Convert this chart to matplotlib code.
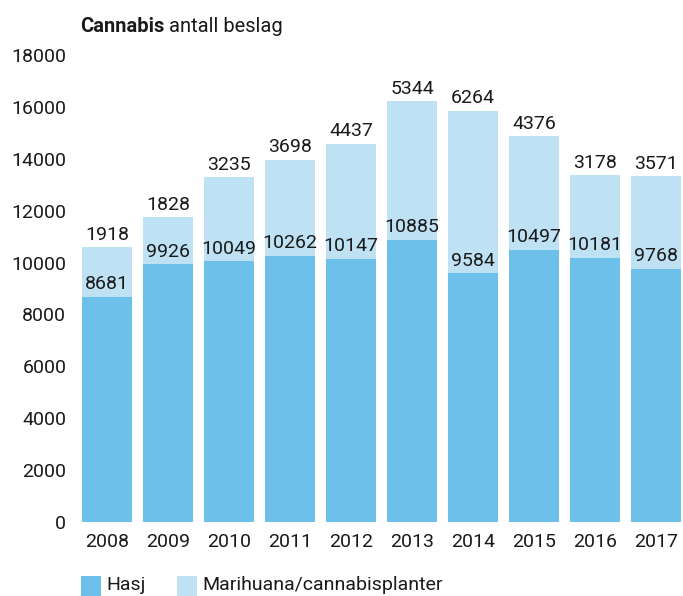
import matplotlib
matplotlib.use("Agg")
import matplotlib.pyplot as plt
from matplotlib.patches import Rectangle

# ------------------------------------------------------------------
# Data
# ------------------------------------------------------------------
years = ["2008", "2009", "2010", "2011", "2012",
         "2013", "2014", "2015", "2016", "2017"]
hasj = [8681, 9926, 10049, 10262, 10147, 10885, 9584, 10497, 10181, 9768]
marihuana = [1918, 1828, 3235, 3698, 4437, 5344, 6264, 4376, 3178, 3571]
yticks = [0, 2000, 4000, 6000, 8000, 10000, 12000, 14000, 16000, 18000]

c_hasj = "#6CC0EA"
c_mari = "#BEE1F4"
fs = 14

plt.rcParams['font.family'] = ['Roboto', 'DejaVu Sans']

W, H = 683, 596
fig = plt.figure(figsize=(W / 100, H / 100), dpi=100)
ax = fig.add_axes([76 / W, 1 - 522 / H, 607 / W, (522 - 55) / H])

x = list(range(len(years)))
ax.bar(x, hasj, width=0.82, color=c_hasj, linewidth=0)
totals = [h + m for h, m in zip(hasj, marihuana)]
ax.bar(x, marihuana, bottom=hasj, width=0.82, color=c_mari, linewidth=0)

for xi, h, m, t in zip(x, hasj, marihuana, totals):
    ax.text(xi, h + 130, f"{h}", ha='center', va='bottom', fontsize=fs,
            color='#1a1a1a', clip_on=False)
    ax.text(xi, t + 130, f"{m}", ha='center', va='bottom', fontsize=fs,
            color='#1a1a1a', clip_on=False)

ax.set_xlim(-0.508, 9.44)
ax.set_ylim(0, 18000)
ax.set_yticks(yticks)
ax.set_yticklabels([str(v) for v in yticks], fontsize=fs, color='#1a1a1a')
ax.set_xticks(x)
ax.set_xticklabels(years, fontsize=fs, color='#1a1a1a')
ax.tick_params(length=0)
ax.tick_params(axis='y', pad=7)
ax.tick_params(axis='x', pad=8)
for s in ax.spines.values():
    s.set_visible(False)

# tittel
t1 = fig.text(80 / W, 1 - 32 / H, "Cannabis", fontsize=14.5, fontweight='bold',
              color='#1a1a1a', va='baseline')
fig.canvas.draw()
bb = t1.get_window_extent()
fig.text((bb.x1 + 5) / W, 1 - 32 / H, "antall beslag", fontsize=14.5,
         color='#1a1a1a', va='baseline')

# legende
fig.patches.append(Rectangle((81 / W, 0), 20 / W, 20 / H, transform=fig.transFigure,
                             color=c_hasj, linewidth=0))
fig.text(106 / W, 1 - 590 / H, "Hasj", fontsize=fs, color='#1a1a1a', va='baseline')
fig.patches.append(Rectangle((177 / W, 0), 20 / W, 20 / H, transform=fig.transFigure,
                             color=c_mari, linewidth=0))
fig.text(202 / W, 1 - 590 / H, "Marihuana/cannabisplanter", fontsize=fs,
         color='#1a1a1a', va='baseline')

fig.savefig("out.png", dpi=100)
